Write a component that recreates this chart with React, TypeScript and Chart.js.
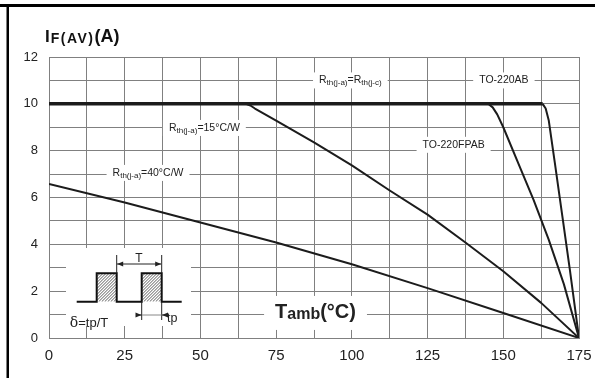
import React, { useEffect, useRef } from 'react';
import { Chart, registerables } from 'chart.js';

Chart.register(...registerables);

// ---- data ----
const X_LABELS = [0, 25, 50, 75, 100, 125, 150, 175];
const Y_LABELS = [0, 2, 4, 6, 8, 10, 12];

// Rth(j-a)=Rth(j-c) plateau (IF(AV) = 10 A)
const PLATEAU_T = [0, 163];
const PLATEAU_I = [10, 10];
// Rth(j-a)=15°C/W
const R15_T = [65, 66.5, 68, 75, 87.5, 100, 112.5, 125, 137.5, 150, 162.5, 175];
const R15_I = [10, 9.93, 9.8, 9.28, 8.35, 7.37, 6.3, 5.27, 4.08, 2.85, 1.5, 0];
// Rth(j-a)=40°C/W
const R40_T = [0, 25, 50, 75, 100, 125, 150, 175];
const R40_I = [6.58, 5.79, 4.93, 4.08, 3.15, 2.13, 1.07, 0];
// TO-220FPAB
const FPAB_T = [145, 146.5, 148, 150, 155, 160, 165, 170, 175];
const FPAB_I = [10, 9.85, 9.55, 9.0, 7.45, 5.9, 4.2, 2.3, 0];
// TO-220AB
const AB_T = [163, 164, 165, 167, 169.5, 172, 175];
const AB_I = [10, 9.8, 9.3, 7.5, 5.2, 2.9, 0];

// ---- styles ----
const SANS = '"Liberation Sans", Arial, Helvetica, sans-serif';
const GRID = '#808080';
const LINE = '#1c1c1c';
const TEXT = '#222222';
const f = (size: number, bold = false) => `${bold ? 'bold ' : ''}${size}px ${SANS}`;

type Part = { t: string; font: string; dy?: number; ls?: number };

const sub = (t: string): Part => ({ t, font: f(8), dy: 2.5 });
const main = (t: string): Part => ({ t, font: f(10.5) });

const NOTES: { x: number; y: number; parts: Part[]; padX?: number; h?: number }[] = [
  { x: 99.5, y: 11, parts: [main('R'), sub('th(j-a)'), main('=R'), sub('th(j-c)')] },
  { x: 150.2, y: 11, parts: [main('TO-220AB')] },
  { x: 133.6, y: 8.25, parts: [main('TO-220FPAB')] },
  { x: 51.3, y: 8.97, parts: [main('R'), sub('th(j-a)'), main('=15°C/W')] },
  { x: 32.7, y: 7.05, parts: [main('R'), sub('th(j-a)'), main('=40°C/W')] },
  {
    x: 88,
    y: 1.07,
    parts: [
      { t: 'T', font: f(20, true) },
      { t: 'amb', font: f(16, true), dy: 2 },
      { t: '(°C)', font: f(20, true) },
    ],
    padX: 11,
    h: 34,
  },
];

function richWidth(ctx: CanvasRenderingContext2D, parts: Part[]) {
  let w = 0;
  for (const p of parts) {
    ctx.font = p.font;
    (ctx as any).letterSpacing = `${p.ls || 0}px`;
    w += ctx.measureText(p.t).width;
  }
  (ctx as any).letterSpacing = '0px';
  return w;
}

function drawRich(ctx: CanvasRenderingContext2D, parts: Part[], x: number, y: number) {
  let cx = x;
  ctx.textAlign = 'left';
  ctx.textBaseline = 'middle';
  for (const p of parts) {
    ctx.font = p.font;
    (ctx as any).letterSpacing = `${p.ls || 0}px`;
    ctx.fillText(p.t, cx, y + (p.dy || 0));
    cx += ctx.measureText(p.t).width;
  }
  (ctx as any).letterSpacing = '0px';
}

function arrowHead(ctx: CanvasRenderingContext2D, x: number, y: number, dir: number) {
  ctx.beginPath();
  ctx.moveTo(x, y);
  ctx.lineTo(x - dir * 6, y - 2.5);
  ctx.lineTo(x - dir * 6, y + 2.5);
  ctx.closePath();
  ctx.fill();
}

const decor = {
  id: 'decor',
  beforeDatasetsDraw(chart: any) {
    const ctx: CanvasRenderingContext2D = chart.ctx;
    const xs = chart.scales.x;
    const ys = chart.scales.y;
    ctx.save();
    // labels with white boxes over the grid
    for (const n of NOTES) {
      const cx = xs.getPixelForValue(n.x);
      const cy = ys.getPixelForValue(n.y);
      const w = richWidth(ctx, n.parts);
      const padX = n.padX ?? 6;
      const h = n.h ?? 16;
      ctx.fillStyle = '#ffffff';
      ctx.fillRect(cx - w / 2 - padX, cy - h / 2, w + 2 * padX, h);
      ctx.fillStyle = TEXT;
      drawRich(ctx, n.parts, cx - w / 2, cy);
    }

    // inset pulse diagram
    const ox = xs.getPixelForValue(0);
    const oy = ys.getPixelForValue(0);
    ctx.fillStyle = '#ffffff';
    ctx.fillRect(ox + 17, oy - 90, 125, 78);

    const base = oy - 36.3;
    const top = oy - 64.7;
    const pulses = [
      [47.7, 67.7],
      [92.7, 112.7],
    ];
    // hatching
    for (const [a, b] of pulses) {
      ctx.save();
      ctx.beginPath();
      ctx.rect(ox + a, top, b - a, base - top);
      ctx.clip();
      ctx.strokeStyle = '#333';
      ctx.lineWidth = 0.8;
      ctx.beginPath();
      for (let k = -40; k < 40; k += 3) {
        ctx.moveTo(ox + a + k, base);
        ctx.lineTo(ox + a + k + (base - top), top);
      }
      ctx.stroke();
      ctx.restore();
    }
    // outline
    ctx.strokeStyle = '#111';
    ctx.lineWidth = 2;
    ctx.beginPath();
    ctx.moveTo(ox + 27.7, base);
    ctx.lineTo(ox + 47.7, base);
    ctx.lineTo(ox + 47.7, top);
    ctx.lineTo(ox + 67.7, top);
    ctx.lineTo(ox + 67.7, base);
    ctx.lineTo(ox + 92.7, base);
    ctx.lineTo(ox + 92.7, top);
    ctx.lineTo(ox + 112.7, top);
    ctx.lineTo(ox + 112.7, base);
    ctx.lineTo(ox + 132.7, base);
    ctx.stroke();

    // T dimension
    ctx.lineWidth = 1;
    ctx.strokeStyle = '#222';
    ctx.beginPath();
    ctx.moveTo(ox + 67.7, oy - 83);
    ctx.lineTo(ox + 67.7, top);
    ctx.moveTo(ox + 112.7, oy - 83);
    ctx.lineTo(ox + 112.7, top);
    ctx.moveTo(ox + 68, oy - 74);
    ctx.lineTo(ox + 112, oy - 74);
    ctx.stroke();
    ctx.fillStyle = '#222';
    arrowHead(ctx, ox + 68.2, oy - 74, -1);
    arrowHead(ctx, ox + 112.2, oy - 74, 1);
    ctx.font = f(12);
    ctx.textAlign = 'center';
    ctx.textBaseline = 'alphabetic';
    ctx.fillText('T', ox + 90, oy - 76.5);

    // tp dimension
    ctx.strokeStyle = '#222';
    ctx.beginPath();
    ctx.moveTo(ox + 92.7, base);
    ctx.lineTo(ox + 92.7, oy - 18);
    ctx.moveTo(ox + 112.7, base);
    ctx.lineTo(ox + 112.7, oy - 18);
    ctx.moveTo(ox + 88.5, oy - 23);
    ctx.lineTo(ox + 92.5, oy - 23);
    ctx.moveTo(ox + 113, oy - 23);
    ctx.lineTo(ox + 117, oy - 23);
    ctx.stroke();
    ctx.strokeStyle = '#888';
    ctx.beginPath();
    ctx.moveTo(ox + 93, oy - 23);
    ctx.lineTo(ox + 112.5, oy - 23);
    ctx.stroke();
    ctx.fillStyle = '#222';
    arrowHead(ctx, ox + 92.5, oy - 23, 1);
    arrowHead(ctx, ox + 113, oy - 23, -1);
    ctx.font = f(12.5);
    ctx.textAlign = 'left';
    ctx.textBaseline = 'middle';
    ctx.fillText('tp', ox + 118, oy - 19);

    // duty cycle
    ctx.fillStyle = TEXT;
    ctx.font = `14px "DejaVu Serif", serif`;
    const dW = ctx.measureText('δ').width;
    ctx.font = f(13);
    const rW = ctx.measureText('=tp/T').width;
    const sx = ox + 40 - (dW + rW) / 2;
    ctx.font = `14px "DejaVu Serif", serif`;
    ctx.textBaseline = 'alphabetic';
    ctx.fillText('δ', sx, oy - 11.5);
    ctx.font = f(13);
    ctx.fillText('=tp/T', sx + dW, oy - 11.5);
    ctx.restore();
  },
  afterDraw(chart: any) {
    const ctx: CanvasRenderingContext2D = chart.ctx;
    ctx.save();
    // frame
    ctx.fillStyle = '#000';
    ctx.fillRect(0, 4, 595, 3);
    ctx.fillRect(6.5, 4, 2.5, 374);
    // y axis title
    ctx.fillStyle = '#111';
    ctx.textBaseline = 'alphabetic';
    ctx.textAlign = 'left';
    let x = 45;
    ctx.font = f(17, true);
    ctx.fillText('I', x, 42);
    x += ctx.measureText('I').width + 1;
    ctx.font = f(14, true);
    (ctx as any).letterSpacing = '1.5px';
    ctx.fillText('F(AV)', x, 43);
    x += ctx.measureText('F(AV)').width;
    (ctx as any).letterSpacing = '0px';
    ctx.font = f(18, true);
    ctx.fillText('(A)', x, 42);
    ctx.restore();
  },
};

function mk(T: number[], I: number[], w: number) {
  return {
    data: T.map((t, i) => ({ x: t, y: I[i] })),
    borderColor: LINE,
    borderWidth: w,
    pointRadius: 0,
    fill: false,
    tension: 0,
    borderJoinStyle: 'round' as const,
  };
}

export default function App() {
  const ref = useRef<HTMLCanvasElement>(null);
  useEffect(() => {
    const chart = new Chart(ref.current as HTMLCanvasElement, {
      type: 'line',
      data: {
        datasets: [
          mk(R40_T, R40_I, 2),
          mk(R15_T, R15_I, 2),
          mk(FPAB_T, FPAB_I, 2),
          mk(AB_T, AB_I, 2),
          mk(PLATEAU_T, PLATEAU_I, 3.5),
        ] as any,
      },
      options: {
        animation: false,
        responsive: false,
        maintainAspectRatio: false,
        layout: { padding: { top: 57, right: 16, left: 0, bottom: 0 } },
        plugins: {
          legend: { display: false },
          tooltip: { enabled: false },
          title: { display: false },
        },
        scales: {
          x: {
            type: 'linear',
            min: 0,
            max: 175,
            afterFit: (s: any) => {
              s.height = 40;
              s.paddingLeft = 0;
              s.paddingRight = 0;
            },
            grid: { color: GRID, lineWidth: 1, drawTicks: false },
            border: { color: GRID, width: 1 },
            ticks: {
              stepSize: 12.5,
              autoSkip: false,
              maxRotation: 0,
              padding: 9,
              color: TEXT,
              font: { family: SANS, size: 15 },
              callback: (v: any) => (X_LABELS.indexOf(Number(v)) >= 0 ? String(v) : ''),
            },
          },
          y: {
            type: 'linear',
            min: 0,
            max: 12,
            afterFit: (s: any) => {
              s.width = 49;
              s.paddingTop = 0;
              s.paddingBottom = 0;
            },
            grid: { color: GRID, lineWidth: 1, drawTicks: false },
            border: { color: GRID, width: 1 },
            ticks: {
              stepSize: 1,
              autoSkip: false,
              padding: 11,
              color: TEXT,
              font: { family: SANS, size: 13 },
              callback: (v: any) => (Y_LABELS.indexOf(Number(v)) >= 0 ? String(v) : ''),
            },
          },
        },
      } as any,
      plugins: [decor],
    });
    return () => chart.destroy();
  }, []);
  return (
    <div style={{ position: 'absolute', left: 0, top: 0, width: 595, height: 378, background: '#fff' }}>
      <canvas ref={ref} width={595} height={378} style={{ display: 'block', width: 595, height: 378 }} />
    </div>
  );
}
